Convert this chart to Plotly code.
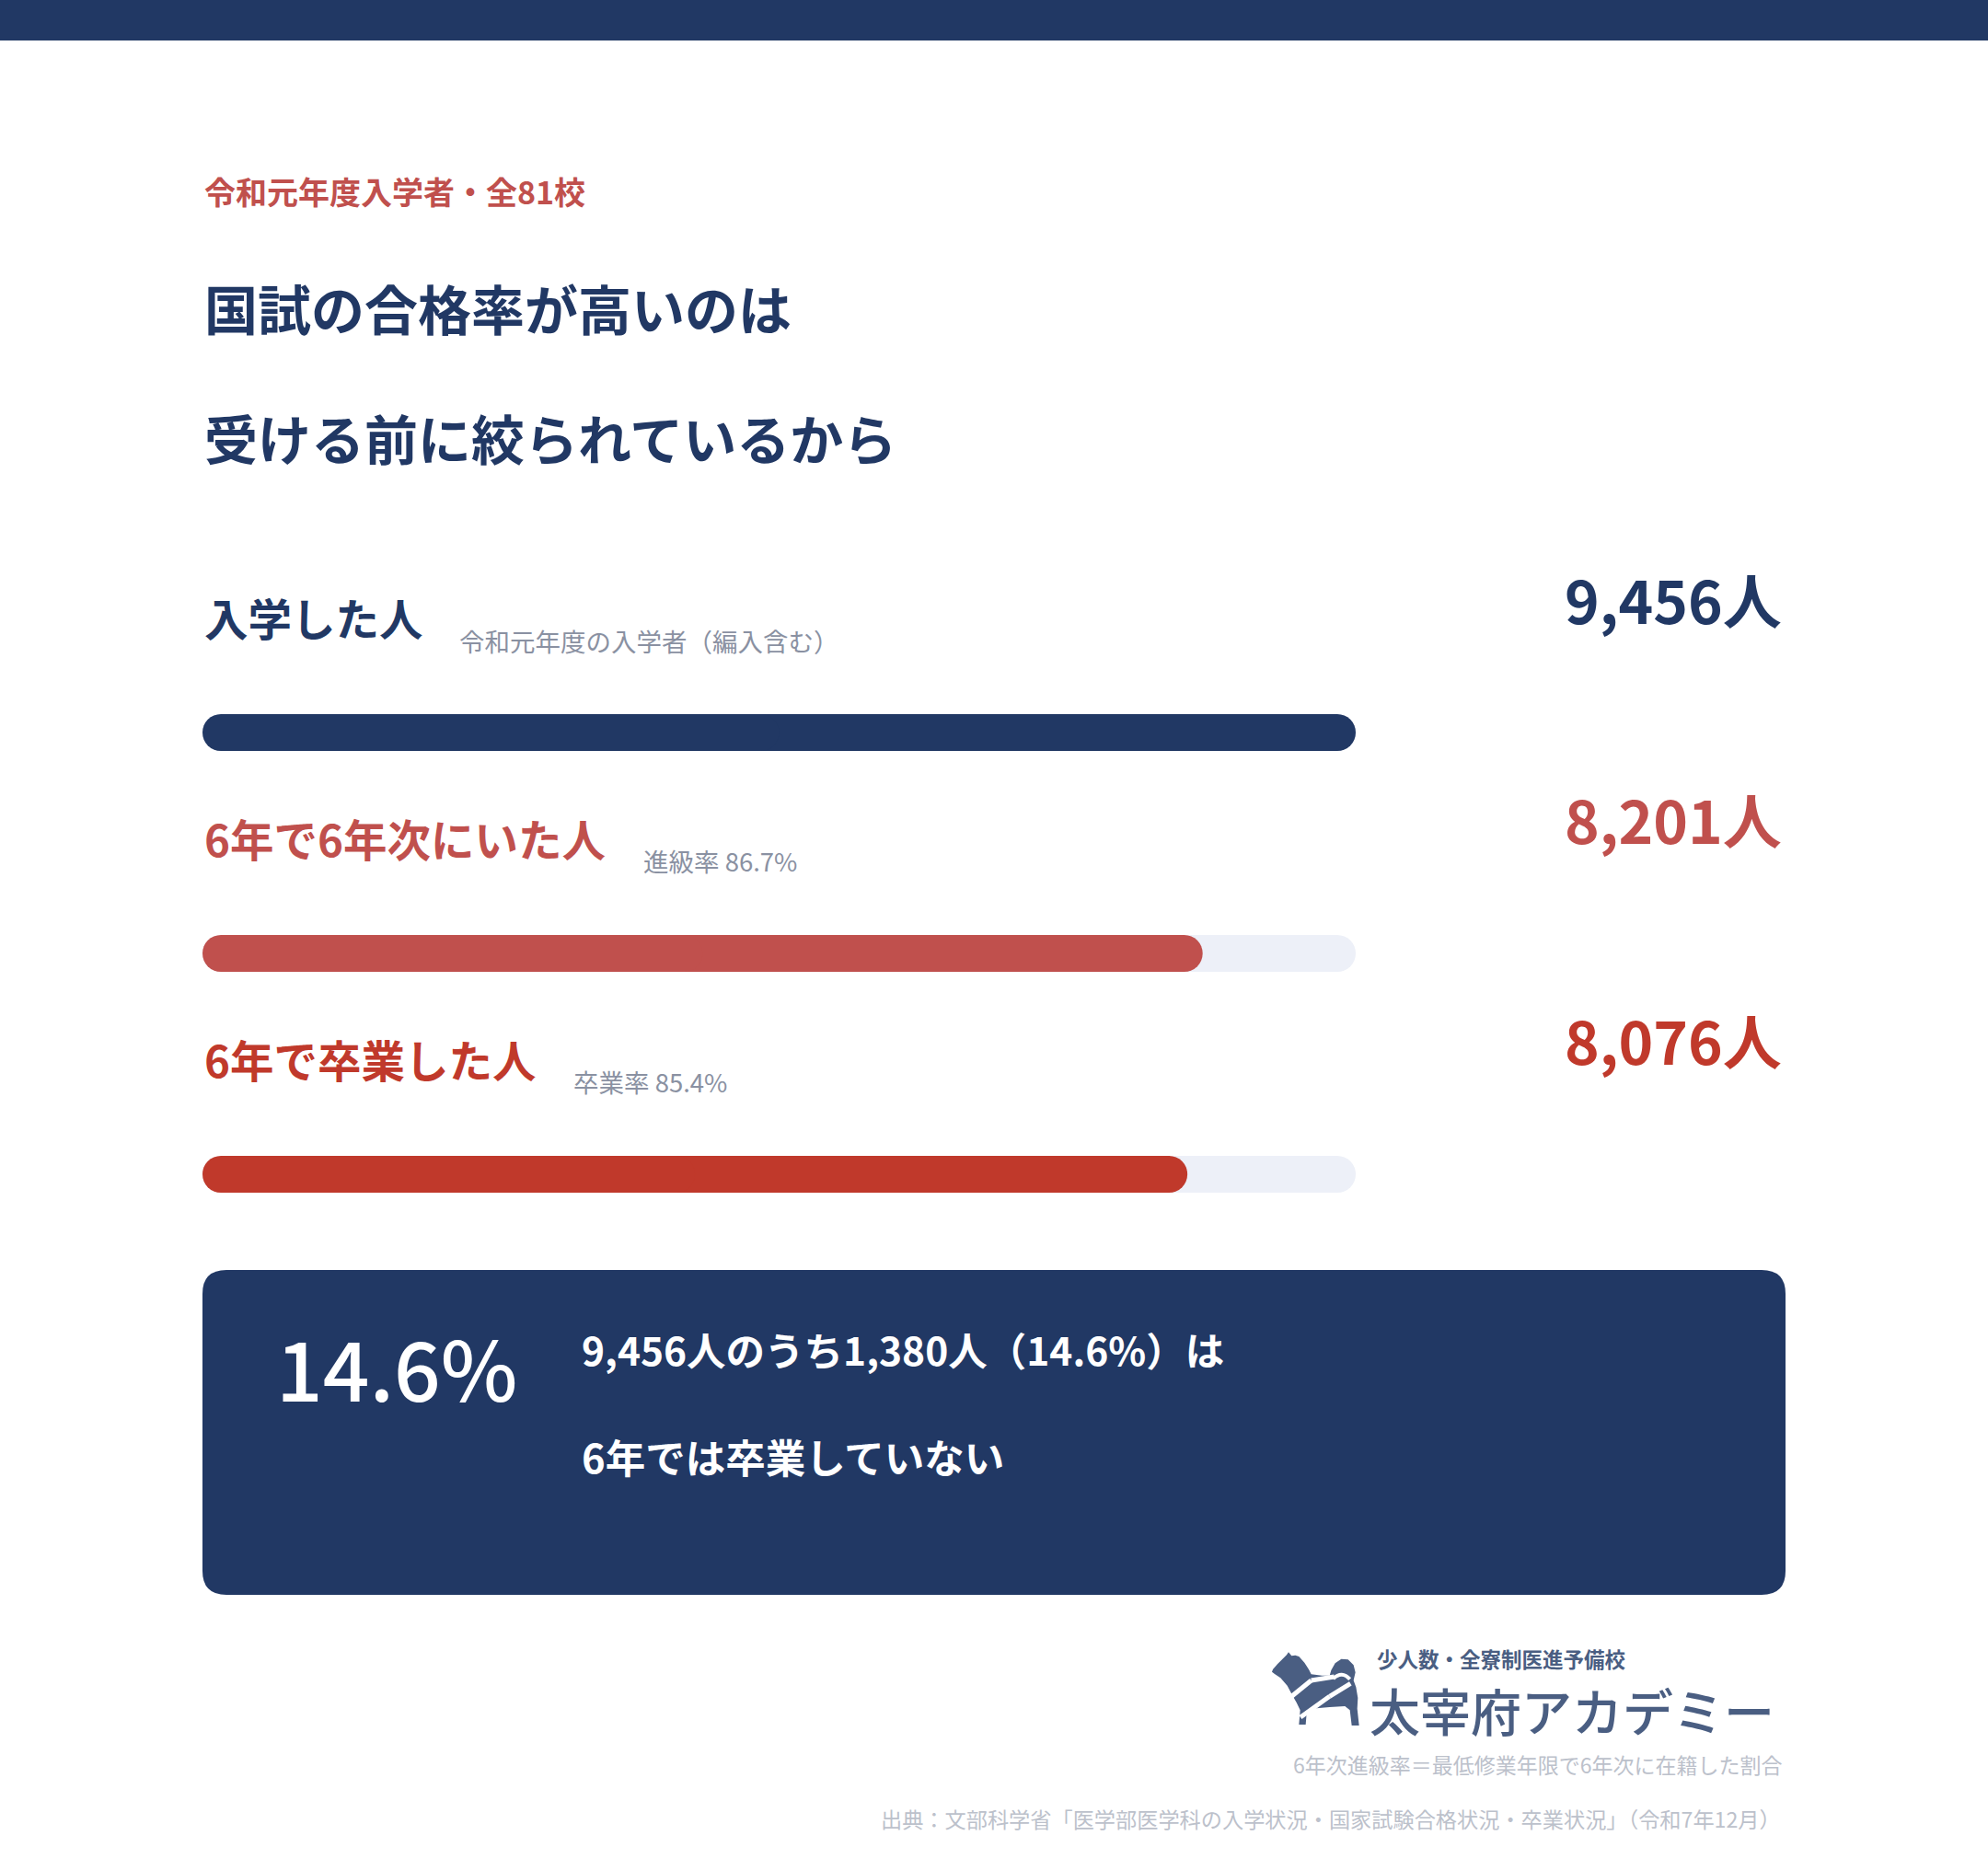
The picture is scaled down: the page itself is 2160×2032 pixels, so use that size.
import plotly.graph_objects as go

W, H = 2160, 2032

# ---- data ----
categories = ["入学した人", "6年で6年次にいた人", "6年で卒業した人"]
counts = [9456, 8201, 8076]
sub_prefix = ["令和元年度の入学者（編入含む）", "進級率", "卒業率"]
row_colors = ["#213864", "#C0504D", "#C0392B"]
subtitle = "令和元年度入学者・全81校"
title_lines = ["国試の合格率が高いのは", "受ける前に絞られているから"]
note_text = "6年次進級率＝最低修業年限で6年次に在籍した割合"
source_text = "出典：文部科学省「医学部医学科の入学状況・国家試験合格状況・卒業状況」（令和7年12月）"
logo_small = "少人数・全寮制医進予備校"
logo_big = "太宰府アカデミー"

NAVY = "#213864"
TRACK = "#EDF0F8"
GREY = "#8A91A2"
LIGHTGREY = "#BCC1CB"
LOGO = "#4A5E82"
FONT = "Noto Sans CJK JP"

total = counts[0]
rates = [c / total * 100 for c in counts]
not_grad = counts[0] - counts[2]
not_grad_rate = not_grad / counts[0] * 100


def px(x):
    return x / W


def py(y):
    return 1 - y / H


fig = go.Figure()

bar_w = 40 / 240


def add_bar(vals, color):
    # split in two halves (one growing right, one growing left) so both ends are rounded
    fig.add_trace(go.Bar(y=categories, x=[v * 0.55 for v in vals], base=[v * 0.45 for v in vals],
                         orientation="h", opacity=1,
                         marker=dict(color=color, cornerradius="50%", line=dict(width=0), opacity=1),
                         width=bar_w, hoverinfo="skip", showlegend=False))
    fig.add_trace(go.Bar(y=categories, x=[-v * 0.5 for v in vals], base=[v * 0.5 for v in vals],
                         orientation="h", opacity=1,
                         marker=dict(color=color, cornerradius="50%", line=dict(width=0), opacity=1),
                         width=bar_w, hoverinfo="skip", showlegend=False))


add_bar([total] * 3, TRACK)
add_bar(counts, row_colors)

shapes = []
shapes.append(dict(type="rect", xref="paper", yref="paper", x0=0, x1=1, y0=py(44), y1=1,
                   fillcolor=NAVY, line=dict(width=0), layer="below"))


def rrect(x0, y0, x1, y1, r):
    pts = [
        ("M", [(x0 + r, y0)]), ("L", [(x1 - r, y0)]), ("Q", [(x1, y0), (x1, y0 + r)]),
        ("L", [(x1, y1 - r)]), ("Q", [(x1, y1), (x1 - r, y1)]), ("L", [(x0 + r, y1)]),
        ("Q", [(x0, y1), (x0, y1 - r)]), ("L", [(x0, y0 + r)]), ("Q", [(x0, y0), (x0 + r, y0)]),
    ]
    s = ""
    for cmd, ps in pts:
        s += cmd + " " + " ".join(f"{px(a):.5f},{py(b):.5f}" for a, b in ps) + " "
    return s + "Z"


shapes.append(dict(type="path", xref="paper", yref="paper", path=rrect(220, 1380, 1940, 1733, 26),
                   fillcolor=NAVY, line=dict(width=0), layer="below"))

# dog logo (approximate silhouette)
ox, oy = 1378, 1790


def zp(zx, zy):
    return ox + zx / 3, oy + zy / 3


def ptxt(a, b):
    x, y = zp(a, b)
    return f"{px(x):.5f},{py(y):.5f}"


dog = [(15, 72), (30, 55), (45, 40), (60, 25), (66, 16), (76, 28), (88, 26), (100, 30), (118, 50),
       (132, 72), (140, 88), (175, 92), (200, 92), (205, 75), (218, 52), (238, 38), (260, 40),
       (278, 58), (284, 82), (278, 108), (286, 130), (292, 165), (290, 200), (296, 255), (272, 255),
       (266, 205), (250, 192), (200, 195), (140, 200), (125, 215), (122, 252), (100, 252), (104, 205),
       (92, 180), (78, 155), (62, 125), (40, 100), (22, 88), (12, 80)]
dp = "M " + " L ".join(ptxt(a, b) for a, b in dog) + " Z"
shapes.append(dict(type="path", xref="paper", yref="paper", path=dp, fillcolor=LOGO, line=dict(width=0)))
for (a0, b0), (a1, b1) in [((70, 165), (140, 108)), ((140, 108), (215, 96)),
                           ((105, 228), (200, 160)), ((200, 160), (268, 118))]:
    shapes.append(dict(type="path", xref="paper", yref="paper",
                       path=f"M {ptxt(a0, b0)} L {ptxt(a1, b1)}",
                       line=dict(color="white", width=5)))
shapes.append(dict(type="path", xref="paper", yref="paper",
                   path=f"M {ptxt(212, 102)} Q {ptxt(240, 76)} {ptxt(266, 104)}",
                   line=dict(color="white", width=4)))

ann = []


def text(x, y, s, size, color, weight="normal", xanchor="left"):
    ann.append(dict(x=px(x), y=py(y), xref="paper", yref="paper", text=s, showarrow=False,
                    xanchor=xanchor, yanchor="middle",
                    font=dict(family=FONT, size=size, color=color, weight=weight)))


text(220, 207, subtitle, 34, "#C0504D", "bold")
text(220, 334, title_lines[0], 58, NAVY, "bold")
text(220, 475, title_lines[1], 58, NAVY, "bold")

label_y = [670, 910, 1150]
sub_y = [696, 935, 1175]
sub_x = [497, 697, 621]
value_y = [650, 889, 1129]
for i, cat in enumerate(categories):
    text(220, label_y[i], cat, 47.5, row_colors[i], "bold")
    sub = sub_prefix[i] if i == 0 else f"{sub_prefix[i]} {rates[i]:.1f}%"
    text(sub_x[i], sub_y[i], sub, 27.5, GREY)
    text(1938, value_y[i], f"{counts[i]:,}人", 64, row_colors[i], "bold", "right")

text(298, 1484, f"{not_grad_rate:.1f}%", 89, "white", 500)
text(630, 1465, f"{counts[0]:,}人のうち{not_grad:,}人（{not_grad_rate:.1f}%）は", 42.5, "white", "bold")
text(630, 1582, "6年では卒業していない", 43.5, "white", "bold")

text(1494, 1802, logo_small, 22.5, LOGO, "bold")
text(1486, 1857, logo_big, 55, LOGO, 500)
text(1939, 1917, note_text, 23, LIGHTGREY, xanchor="right")
text(1937, 1976, source_text, 23.2, LIGHTGREY, xanchor="right")

fig.update_layout(
    width=W, height=H,
    margin=dict(l=0, r=0, t=0, b=0),
    paper_bgcolor="white", plot_bgcolor="rgba(0,0,0,0)",
    barmode="overlay",
    xaxis=dict(domain=[px(220), px(1473)], range=[0, total], visible=False, fixedrange=True),
    yaxis=dict(domain=[py(1396), py(676)], type="category", categoryorder="array",
               categoryarray=categories, range=[2.5, -0.5], visible=False, fixedrange=True),
    shapes=shapes, annotations=ann, showlegend=False,
)

fig.write_html("out.html", config={"displayModeBar": False},
               post_script="document.body.style.margin='0';document.body.style.padding='0';")
